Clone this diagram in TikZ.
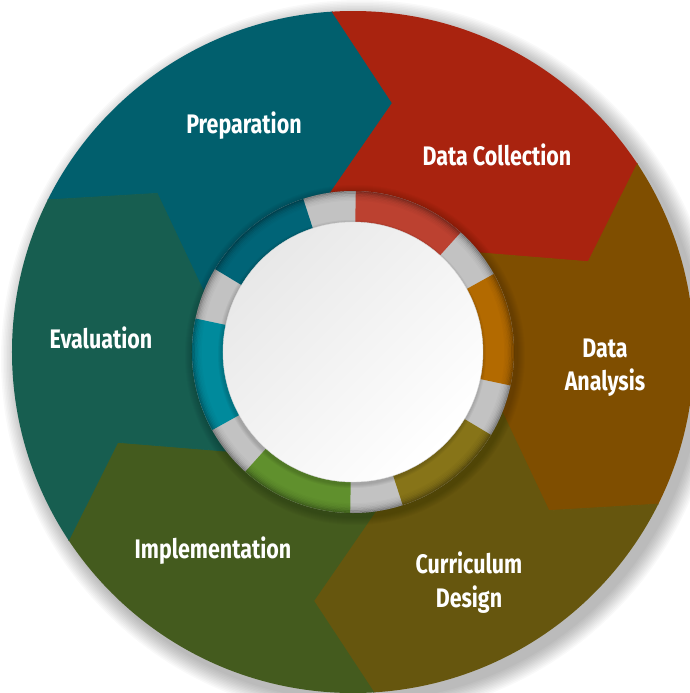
\documentclass[tikz,border=0pt]{standalone}
\usepackage{fontspec}
\setmainfont{Fira Sans}[FakeStretch=0.8]
\usetikzlibrary{calc}

% sector colours
\definecolor{prepC}{HTML}{015F6D}
\definecolor{collC}{HTML}{A9230F}
\definecolor{analC}{HTML}{7F4E00}
\definecolor{currC}{HTML}{66560E}
\definecolor{implC}{HTML}{445B1E}
\definecolor{evalC}{HTML}{175E50}
% inner ring colours
\definecolor{rPrep}{HTML}{006477}
\definecolor{rColl}{HTML}{BC4130}
\definecolor{rAnal}{HTML}{B36A00}
\definecolor{rCurr}{HTML}{877418}
\definecolor{rImpl}{HTML}{60902D}
\definecolor{rEval}{HTML}{008A9C}
\definecolor{rGap}{HTML}{C2C2C2}
\definecolor{discTop}{HTML}{E8E8E8}

\tikzset{
  steplabel/.style={text=white, font=\bfseries\fontsize{13.4}{16.7}\selectfont,
                    inner sep=0pt, anchor=base},
}

\begin{document}
\begin{tikzpicture}[x=0.5pt,y=0.5pt]
\useasboundingbox (-353,-341) rectangle (337,352);
\clip (-353,-341) rectangle (337,352);
\fill[white] (-353,-341) rectangle (337,352);

% soft shadow under the disc
\foreach \i in {0,...,11}
  \fill[black,opacity=0.022] (7,-7) circle ({359-1.5*\i});

% chevron boundary points: outer rim, tip, inner end
\foreach \k in {0,...,5}{
  \coordinate (O\k) at ({93.5-60*\k}:341);
  \coordinate (T\k) at ({81-60*\k}:252);
  \coordinate (I\k) at ({98-60*\k}:161);
  \coordinate (M\k) at ({63.5-60*\k}:700);
}
\foreach \k in {0,...,5}{
  \coordinate (Oe\k) at ($(T\k)!1.4!(O\k)$);
  \coordinate (Ie\k) at ($(T\k)!1.3!(I\k)$);
}

% the six chevron sectors
\begin{scope}
  \clip (0,0) circle (341);
  \foreach \a/\b/\c in {5/0/prepC, 0/1/collC, 1/2/analC, 2/3/currC, 3/4/implC, 4/5/evalC}
    \filldraw[fill=\c, draw=\c, line width=0.4pt]
      (0,0) -- (Ie\a) -- (T\a) -- (Oe\a) -- (M\a) -- (Oe\b) -- (T\b) -- (Ie\b) -- cycle;
  % faint shadow cast by the ring
  \foreach \i in {0,...,7}
    \fill[black, opacity=0.025] (2,-3) circle ({170-\i});
\end{scope}

% inner ring: grey base with coloured arcs
\fill[rGap] (0,0) circle (161);
\foreach \s/\e/\c in {108/149/rPrep, 48/89/rColl, -12/29/rAnal, -72/-31/rCurr, -132/-91/rImpl, 168/209/rEval}
  \fill[\c] (\s:161) arc[start angle=\s, end angle=\e, radius=161]
            -- (\e:118) arc[start angle=\e, end angle=\s, radius=118] -- cycle;
% darker outer rim of the ring
\foreach \r/\o in {160.4/0.30, 159/0.22, 157.6/0.15, 156.2/0.10, 154.8/0.06, 153.4/0.035, 152/0.02}
  \draw[black, opacity=\o, line width=0.75pt] (0,0) circle (\r);

% shadow and centre disc
\foreach \i in {0,...,3}
  \fill[black, opacity=0.04] (-1,-2) circle ({134-\i});
\shade[top color=discTop, bottom color=white, shading angle=45] (0,0) circle (130);
\draw[white!85!black, line width=0.2pt] (0,0) circle (130);

% labels
\node[steplabel] (prep) at (-109,219) {Preparation};
\node[steplabel] (coll) at (144,187) {Data Collection};
\node[steplabel] (anal1) at (252,-5) {Data};
\node[steplabel] (anal2) at (252,-38) {Analysis};
\node[steplabel] (curr1) at (116,-221) {Curriculum};
\node[steplabel] (curr2) at (116,-255) {Design};
\node[steplabel] (impl) at (-140,-206) {Implementation};
\node[steplabel] (eval) at (-252,4) {Evaluation};
\end{tikzpicture}
\end{document}
